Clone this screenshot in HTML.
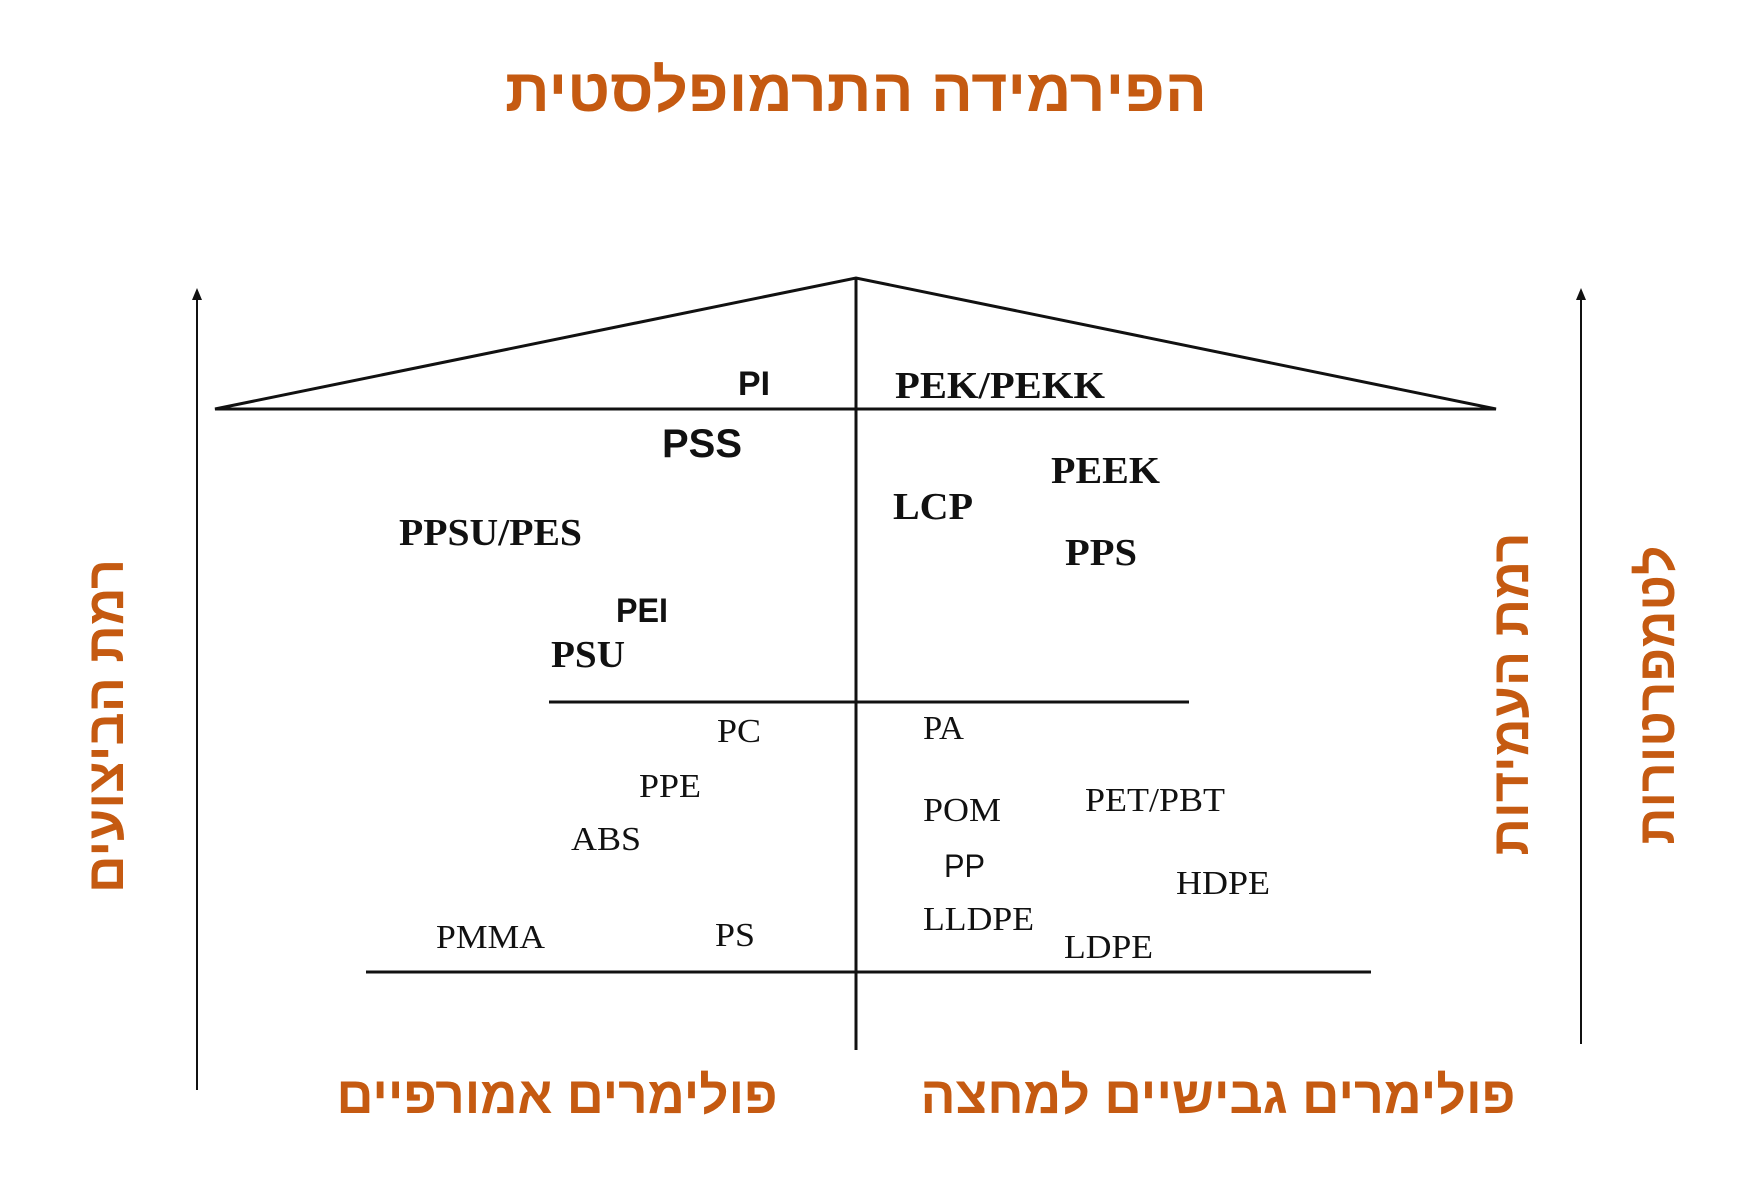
<!DOCTYPE html>
<html><head><meta charset="utf-8"><style>
html,body{margin:0;padding:0;background:#fff;}
svg{display:block;}
.h{font-family:"Liberation Sans","DejaVu Sans",sans-serif;font-weight:bold;fill:#c55a11;}
.sb{font-family:"Liberation Sans",sans-serif;font-weight:bold;fill:#111;}
.rb{font-family:"Liberation Serif",serif;font-weight:bold;fill:#111;}
.r{font-family:"Liberation Serif",serif;fill:#111;}
</style></head><body>
<svg width="1760" height="1196" viewBox="0 0 1760 1196" xmlns="http://www.w3.org/2000/svg">
<g transform="translate(-4,-2)">
<text class="h" x="860" y="113" font-size="60" text-anchor="middle" textLength="702" lengthAdjust="spacingAndGlyphs">הפירמידה התרמופלסטית</text>
<g stroke="#111" stroke-width="3" fill="none">
<path d="M219,411 L860,280 L1500,411 Z"/>
<line x1="860" y1="280" x2="860" y2="1052"/>
<line x1="553" y1="704" x2="1193" y2="704"/>
<line x1="370" y1="974" x2="1375" y2="974"/>
</g>
<g stroke="#111" stroke-width="2">
<line x1="201" y1="1092" x2="201" y2="298"/>
<line x1="1585" y1="1046" x2="1585" y2="298"/>
</g>
<path d="M196,302 L201,290 L206,302 Z" fill="#111"/>
<path d="M1580,302 L1585,290 L1590,302 Z" fill="#111"/>
<text class="sb" x="742" y="397" font-size="34" textLength="32" lengthAdjust="spacingAndGlyphs">PI</text>
<text class="rb" x="899" y="400" font-size="38" textLength="210" lengthAdjust="spacingAndGlyphs">PEK/PEKK</text>
<text class="sb" x="666" y="459" font-size="40" textLength="80" lengthAdjust="spacingAndGlyphs">PSS</text>
<text class="rb" x="1055" y="485" font-size="38" textLength="109" lengthAdjust="spacingAndGlyphs">PEEK</text>
<text class="rb" x="897" y="521" font-size="38" textLength="80" lengthAdjust="spacingAndGlyphs">LCP</text>
<text class="rb" x="403" y="547" font-size="38" textLength="183" lengthAdjust="spacingAndGlyphs">PPSU/PES</text>
<text class="rb" x="1069" y="567" font-size="38" textLength="72" lengthAdjust="spacingAndGlyphs">PPS</text>
<text class="sb" x="620" y="624" font-size="34" textLength="52" lengthAdjust="spacingAndGlyphs">PEI</text>
<text class="rb" x="555" y="669" font-size="38" textLength="74" lengthAdjust="spacingAndGlyphs">PSU</text>
<text class="r" x="721" y="744" font-size="34" textLength="44" lengthAdjust="spacingAndGlyphs">PC</text>
<text class="r" x="927" y="741" font-size="34" textLength="41" lengthAdjust="spacingAndGlyphs">PA</text>
<text class="r" x="643" y="799" font-size="34" textLength="62" lengthAdjust="spacingAndGlyphs">PPE</text>
<text class="r" x="927" y="823" font-size="34" textLength="78" lengthAdjust="spacingAndGlyphs">POM</text>
<text class="r" x="1089" y="813" font-size="34" textLength="140" lengthAdjust="spacingAndGlyphs">PET/PBT</text>
<text class="r" x="575" y="852" font-size="34" textLength="70" lengthAdjust="spacingAndGlyphs">ABS</text>
<text x="948" y="879" font-size="32" style="font-family:'Liberation Sans',sans-serif;fill:#111" textLength="41" lengthAdjust="spacingAndGlyphs">PP</text>
<text class="r" x="1180" y="896" font-size="34" textLength="94" lengthAdjust="spacingAndGlyphs">HDPE</text>
<text class="r" x="927" y="932" font-size="34" textLength="111" lengthAdjust="spacingAndGlyphs">LLDPE</text>
<text class="r" x="440" y="950" font-size="34" textLength="109" lengthAdjust="spacingAndGlyphs">PMMA</text>
<text class="r" x="719" y="948" font-size="34" textLength="40" lengthAdjust="spacingAndGlyphs">PS</text>
<text class="r" x="1068" y="960" font-size="34" textLength="89" lengthAdjust="spacingAndGlyphs">LDPE</text>
<text class="h" x="561" y="1115" font-size="52" text-anchor="middle" textLength="441" lengthAdjust="spacingAndGlyphs">פולימרים אמורפיים</text>
<text class="h" x="1222" y="1115" font-size="52" text-anchor="middle" textLength="595" lengthAdjust="spacingAndGlyphs">פולימרים גבישיים למחצה</text>
<text class="h" font-size="52" text-anchor="middle" transform="translate(127,728) rotate(-90)" textLength="334" lengthAdjust="spacingAndGlyphs">רמת הביצועים</text>
<text class="h" font-size="52" text-anchor="middle" transform="translate(1532,696) rotate(-90)" textLength="323" lengthAdjust="spacingAndGlyphs">רמת העמידות</text>
<text class="h" font-size="52" text-anchor="middle" transform="translate(1678,697) rotate(-90)" textLength="299" lengthAdjust="spacingAndGlyphs">לטמפרטורות</text>
</g>
</svg>
</body></html>
